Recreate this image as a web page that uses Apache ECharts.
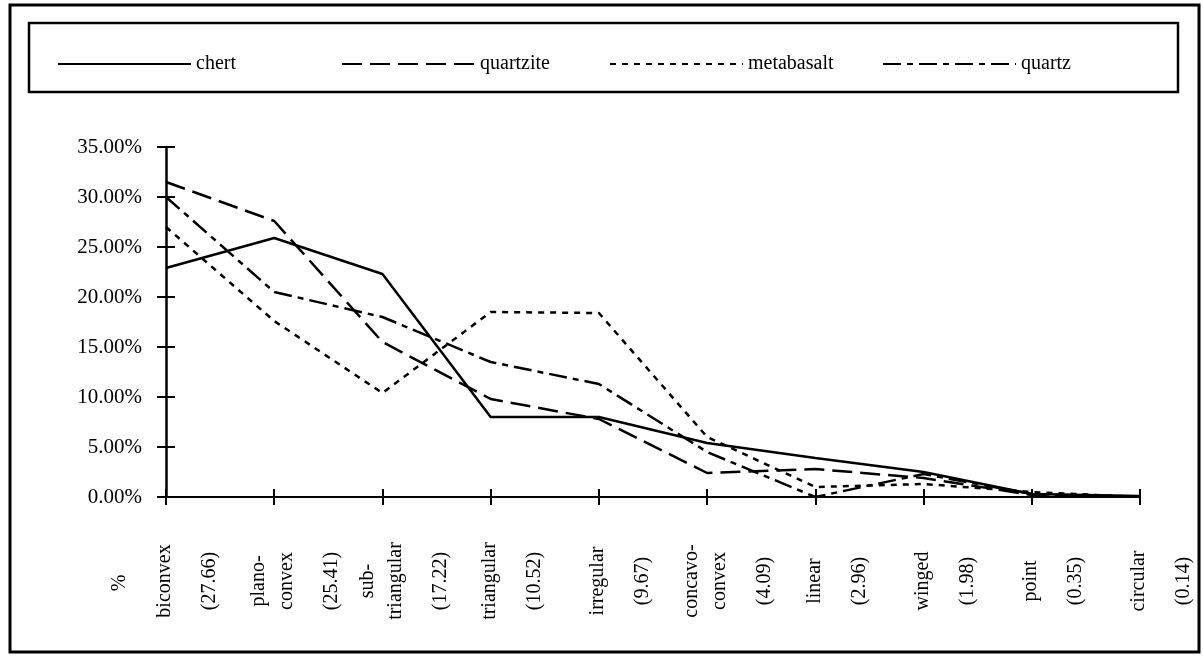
<!DOCTYPE html>
<html>
<head>
<meta charset="utf-8">
<script src="https://cdn.jsdelivr.net/npm/echarts@6/dist/echarts.min.js"></script>
<style>
html,body{margin:0;padding:0;background:#fff;}
#chart{width:1203px;height:656px;}
</style>
</head>
<body>
<div id="chart"></div>
<script>
// ---- data ----
const categories = ['biconvex','plano-\nconvex','sub-\ntriangular','triangular','irregular','concavo-\nconvex','linear','winged','point','circular'];
const counts = ['(27.66)','(25.41)','(17.22)','(10.52)','(9.67)','(4.09)','(2.96)','(1.98)','(0.35)','(0.14)'];
const chert      = [22.9, 25.9, 22.3, 8.0, 8.0, 5.4, 3.9, 2.5, 0.3, 0.1];
const quartzite  = [31.5, 27.6, 15.5, 9.8, 7.8, 2.4, 2.8, 1.9, 0.2, 0.0];
const metabasalt = [27.0, 17.6, 10.4, 18.5, 18.4, 6.0, 1.0, 1.3, 0.5, 0.0];
const quartz     = [30.0, 20.5, 18.0, 13.5, 11.3, 4.5, 0.0, 2.3, 0.3, 0.0];
const yTicks = {min: 0, max: 35, interval: 5};

const FONT = 'Liberation Serif';
const chart = echarts.init(document.getElementById('chart'), null, {renderer: 'canvas'});

function mkSeries(name, data, type) {
  return {
    name: name, type: 'line', data: data, symbol: 'none', animation: false,
    lineStyle: {color: '#000', width: 2.5, type: type},
    itemStyle: {color: '#000'}
  };
}

function legendAt(name, left) {
  return {
    data: [name], left: left, top: 49, itemWidth: 133, itemHeight: 14, itemGap: 0,
    itemStyle: {opacity: 0},
    textStyle: {fontFamily: FONT, fontSize: 20, color: '#000'},
    selectedMode: false
  };
}

const option = {
  backgroundColor: '#fff',
  animation: false,
  legend: [
    legendAt('chert', 52),
    legendAt('quartzite', 336),
    legendAt('metabasalt', 604),
    legendAt('quartz', 877)
  ],
  grid: {left: 166, right: 63, top: 147, bottom: 159, containLabel: false},
  xAxis: [{
    type: 'category', data: categories, boundaryGap: false,
    axisLine: {lineStyle: {color: '#000', width: 2}},
    axisTick: {show: true, interval: 0, length: 8, lineStyle: {color: '#000', width: 2}},
    axisLabel: {
      interval: 0, rotate: 90, align: 'center', margin: 84,
      fontFamily: FONT, fontSize: 20, color: '#000',
      formatter: function (v, i) {
        const lines = String(v).split('\n').map(s => '{n|' + s + '}').join('\n');
        return '{s| }\n' + lines + '\n{c|' + counts[i] + '}';
      },
      rich: {
        s: {lineHeight: 60, fontFamily: FONT, fontSize: 20},
        n: {lineHeight: 28, fontFamily: FONT, fontSize: 20, color: '#000'},
        c: {lineHeight: 62, fontFamily: FONT, fontSize: 20, color: '#000'}
      }
    },
    splitLine: {show: false}
  }, {
    type: 'category', data: categories, boundaryGap: false, position: 'bottom',
    axisLine: {show: false},
    axisTick: {show: true, inside: true, interval: 0, length: 8, lineStyle: {color: '#000', width: 2}},
    axisLabel: {show: false},
    splitLine: {show: false}
  }],
  yAxis: [{
    type: 'value', min: yTicks.min, max: yTicks.max, interval: yTicks.interval,
    axisLine: {show: true, lineStyle: {color: '#000', width: 2.5}},
    axisTick: {show: true, length: 9, lineStyle: {color: '#000', width: 2}},
    axisLabel: {
      margin: 24, fontFamily: FONT, fontSize: 21, color: '#000',
      formatter: v => v.toFixed(2) + '%'
    },
    splitLine: {show: false}
  }, {
    type: 'value', min: yTicks.min, max: yTicks.max, interval: yTicks.interval, position: 'left',
    axisLine: {show: false},
    axisTick: {show: true, inside: true, length: 9, lineStyle: {color: '#000', width: 2}},
    axisLabel: {show: false},
    splitLine: {show: false}
  }],
  series: [
    mkSeries('chert', chert, 'solid'),
    mkSeries('quartzite', quartzite, [20, 8]),
    mkSeries('metabasalt', metabasalt, [6, 6]),
    mkSeries('quartz', quartz, [18, 6, 6, 6])
  ],
  graphic: [
    {type: 'rect', shape: {x: 10, y: 5, width: 1189, height: 647},
     style: {fill: 'none', stroke: '#000', lineWidth: 3}, silent: true, z: -1},
    {type: 'rect', shape: {x: 29, y: 23, width: 1149, height: 69},
     style: {fill: 'none', stroke: '#000', lineWidth: 2.5}, silent: true, z: -1},
    {type: 'text', x: 120, y: 583, rotation: Math.PI / 2,
     style: {text: '%', fontFamily: FONT, fontSize: 20, fill: '#000', align: 'center', verticalAlign: 'middle'}}
  ]
};
chart.setOption(option);
</script>
</body>
</html>
